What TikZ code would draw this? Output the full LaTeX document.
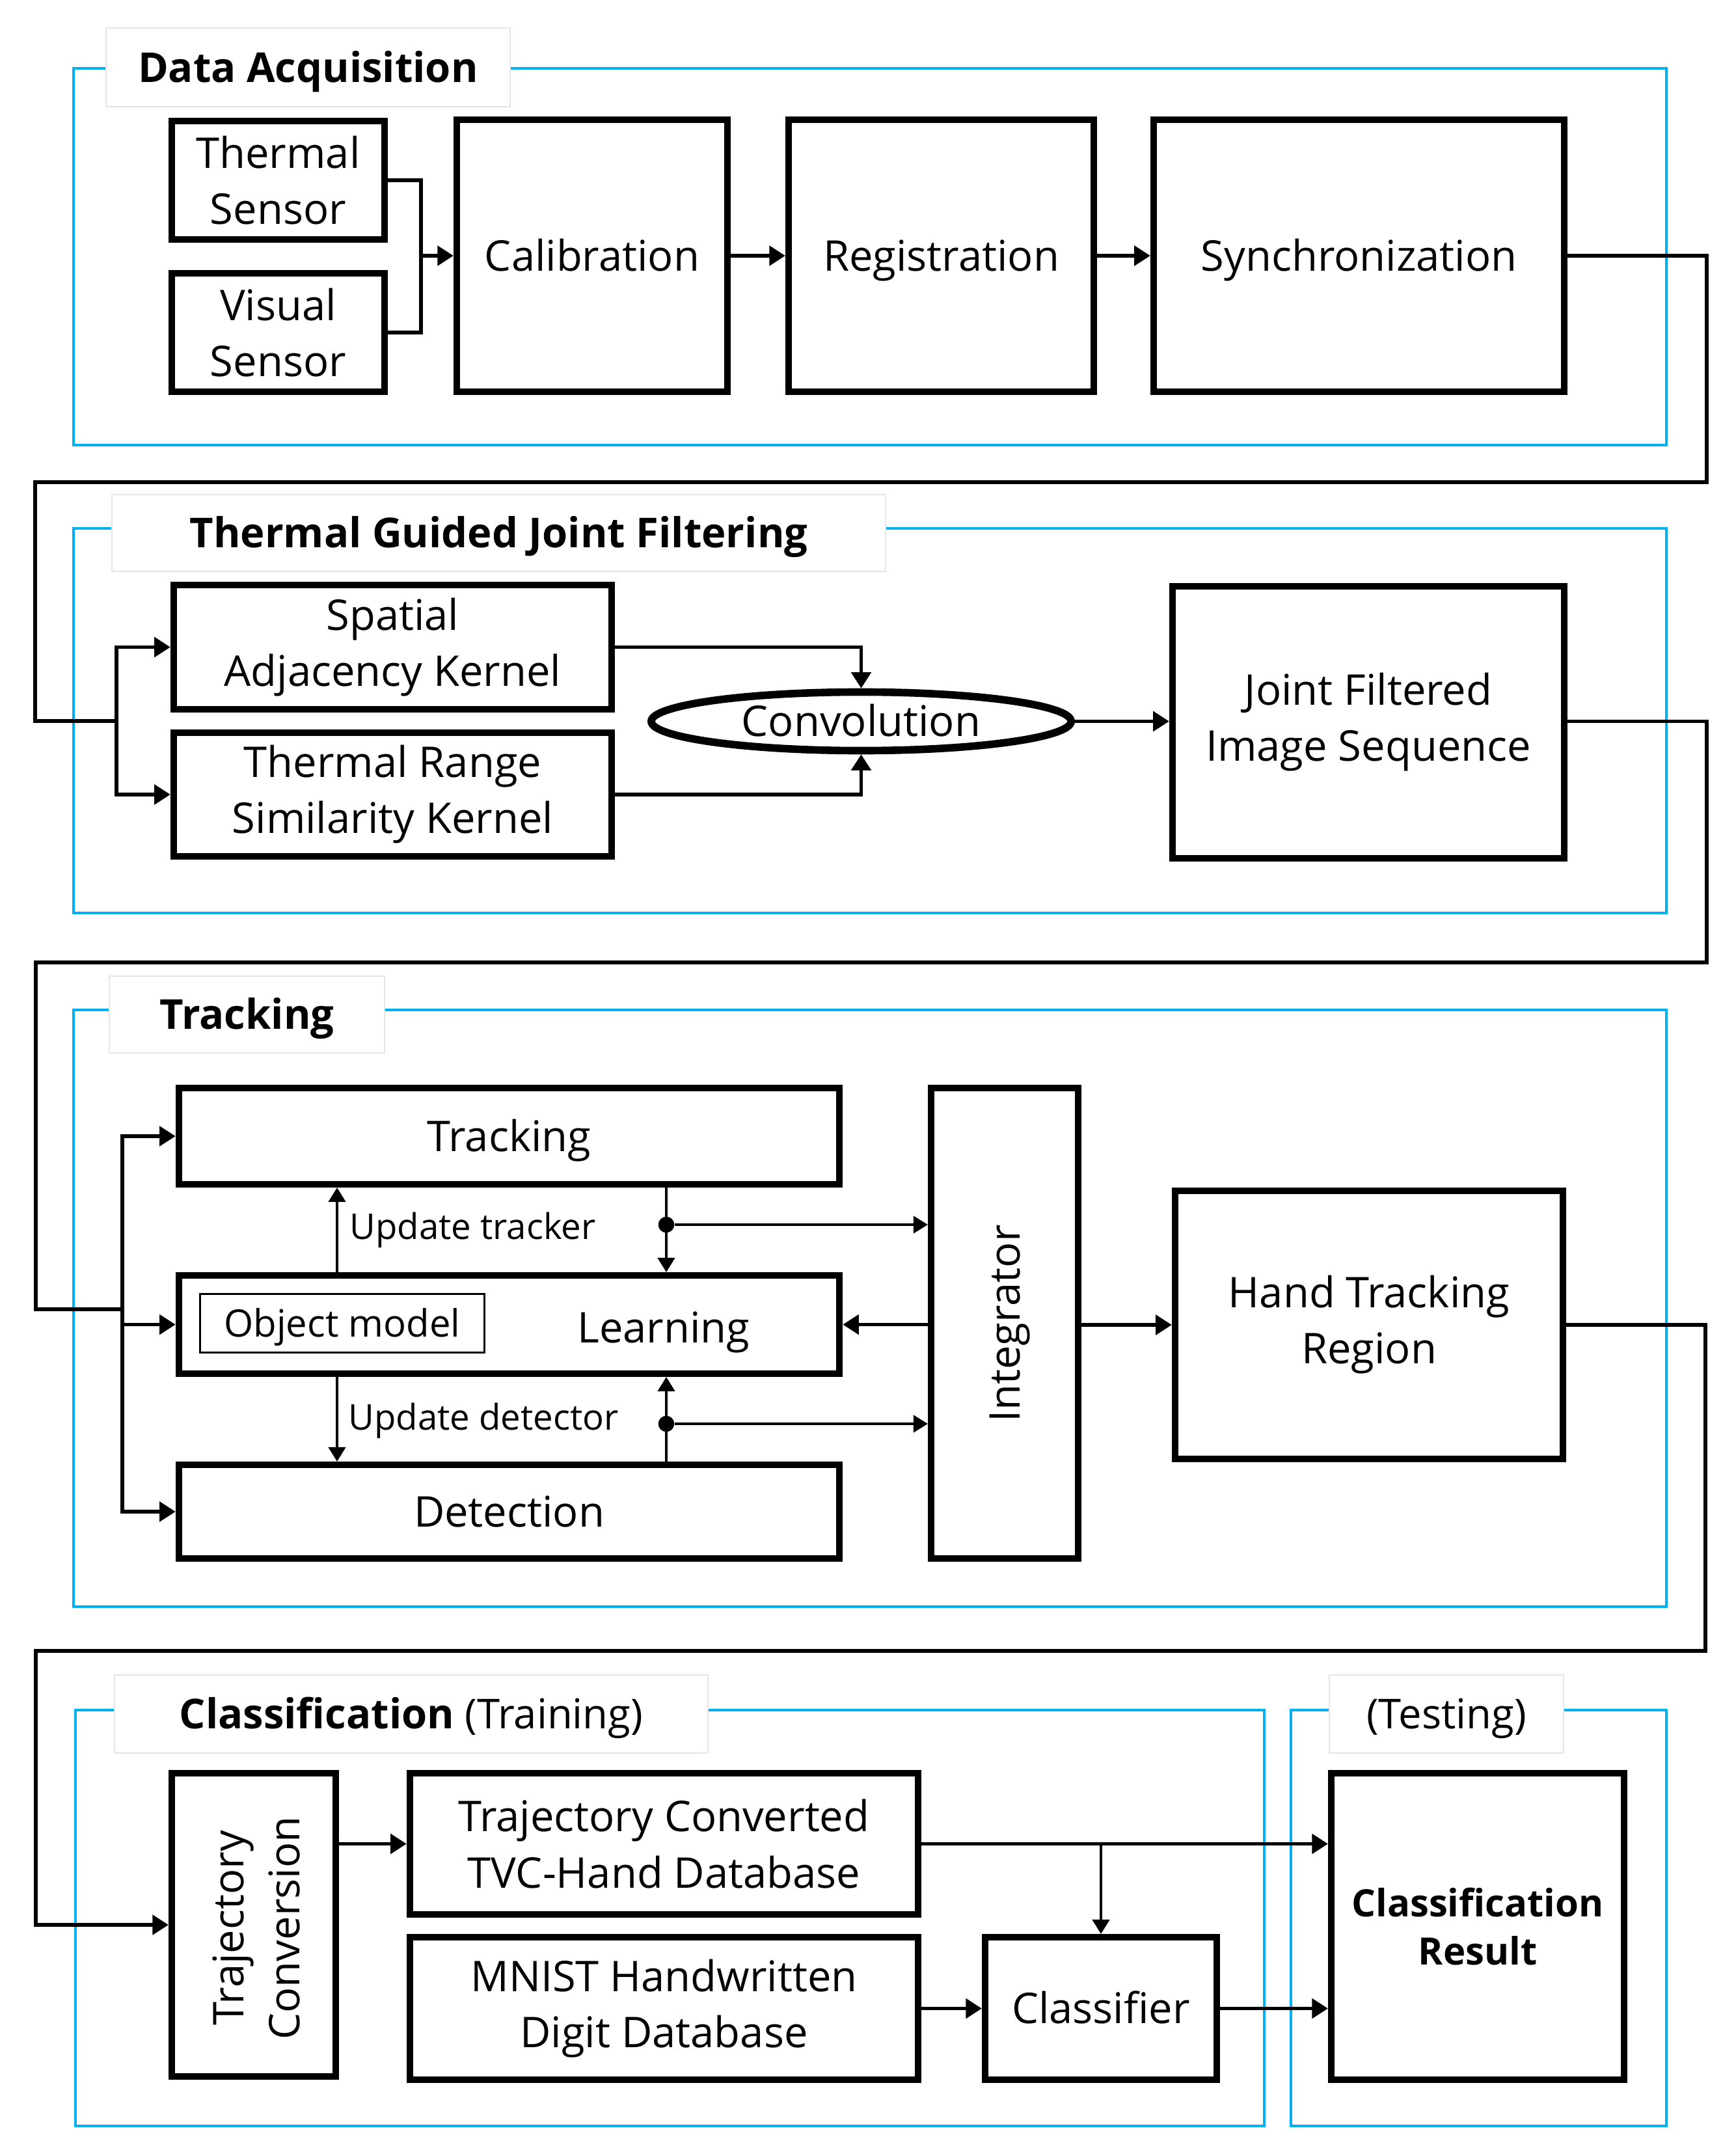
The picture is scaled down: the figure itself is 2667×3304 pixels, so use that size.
\documentclass[tikz,border=0pt]{standalone}
\usepackage{fontspec}
\setmainfont{Open Sans}
\usetikzlibrary{arrows.meta,shapes.geometric}
\definecolor{cyanblue}{HTML}{00B0F0}
\begin{document}
\begin{tikzpicture}[x=0.01cm,y=-0.01cm,
  blk/.style={draw=black, line width=2.85pt, fill=white, inner sep=0pt, align=center,
              font=\fontsize{18.5}{24.5}\selectfont},
  one/.style={text height=13.2pt, text depth=0pt},
  grp/.style={draw=cyanblue, line width=1.3pt},
  ttl/.style={draw=black!10, line width=0.5pt, fill=white, inner sep=0pt,
              text height=13pt, text depth=0pt, font=\bfseries\fontsize{18}{22}\selectfont},
  conn/.style={line width=1.45pt, line join=miter},
  arr/.style={conn, -{Triangle[length=7pt,width=8.6pt]}},
  thinarr/.style={line width=1.1pt, -{Triangle[length=6.3pt,width=7.5pt]}},
  dot/.style={circle, fill=black, inner sep=0pt, minimum size=7pt},
  lbl/.style={anchor=west, inner sep=0pt, font=\fontsize{15.5}{19}\selectfont},
  vtxt/.style={rotate=90, inner sep=0pt, align=center, font=\fontsize{18.5}{24.5}\selectfont}
]
\useasboundingbox (0,0) rectangle (2667,3304);
\fill[white] (0,0) rectangle (2667,3304);

% group frames
\draw[grp] (113,105) rectangle (2561,684);
\draw[grp] (113,812) rectangle (2561,1403);
\draw[grp] (113,1552) rectangle (2561,2469);
\draw[grp] (116,2628) rectangle (1943,3267);
\draw[grp] (1984,2628) rectangle (2561,3267);

% titles
\node[ttl, minimum width=6.21cm, minimum height=1.21cm] (tA) at (473.5,103.5) {Data Acquisition};
\node[ttl, minimum width=11.89cm, minimum height=1.18cm] (tB) at (766.5,819) {Thermal Guided Joint Filtering};
\node[ttl, minimum width=4.23cm, minimum height=1.18cm] (tC) at (379.5,1559) {Tracking};
\node[ttl, minimum width=9.12cm, minimum height=1.20cm] (tD) at (632,2634) {Classification {\mdseries (Training)}};
\node[ttl, minimum width=3.60cm, minimum height=1.20cm, font=\fontsize{18}{22}\selectfont] (tE) at (2223,2634) {(Testing)};

% Data acquisition
\node[blk, minimum width=3.27cm, minimum height=1.82cm] (therm) at (427.5,277) {Thermal\\Sensor};
\node[blk, minimum width=3.27cm, minimum height=1.82cm] (vis) at (427.5,511) {Visual\\Sensor};
\node[blk, one, minimum width=4.16cm, minimum height=4.18cm] (calib) at (910,393) {Calibration};
\node[blk, one, minimum width=4.69cm, minimum height=4.18cm] (reg) at (1446.5,393) {Registration};
\node[blk, one, minimum width=6.31cm, minimum height=4.18cm] (sync) at (2088.5,393) {Synchronization};

% Joint filtering
\node[blk, minimum width=6.73cm, minimum height=1.91cm] (spat) at (603.5,994.5) {Spatial\\Adjacency Kernel};
\node[blk, minimum width=6.73cm, minimum height=1.90cm] (rng) at (603.5,1221) {Thermal Range\\Similarity Kernel};
\node[blk, one, ellipse, line width=3.3pt, minimum width=6.45cm, minimum height=0.90cm] (conv) at (1323.5,1108.5) {Convolution};
\node[blk, minimum width=6.02cm, minimum height=4.17cm] (joint) at (2103,1110) {Joint Filtered\\Image Sequence};

% Tracking
\node[blk, one, minimum width=10.15cm, minimum height=1.48cm] (trk) at (782.5,1746) {Tracking};
\node[blk, minimum width=10.15cm, minimum height=1.51cm] (lrn) at (782.5,2035.5) {};
\node[draw, line width=1pt, minimum width=4.37cm, minimum height=0.90cm, inner sep=0pt,
      text height=11.8pt, text depth=0pt, font=\fontsize{16.5}{20}\selectfont] (objm) at (526,2033.5) {Object model};
\node[one, inner sep=0pt, font=\fontsize{18.5}{23}\selectfont] (lrnt) at (1020,2040) {Learning};
\node[blk, one, minimum width=10.15cm, minimum height=1.44cm] (det) at (782.5,2323) {Detection};
\node[blk, minimum width=2.26cm, minimum height=7.23cm] (integ) at (1544,2033.5) {};
\node[vtxt, text height=13.2pt, text depth=0pt] (integt) at (1544,2034) {Integrator};
\node[blk, minimum width=5.96cm, minimum height=4.12cm] (hand) at (2104,2036) {Hand Tracking\\Region};

% Classification
\node[blk, minimum width=2.52cm, minimum height=4.66cm] (trajc) at (390,2958) {};
\node[vtxt] (trajct) at (394,2963) {Trajectory\\Conversion};
\node[blk, minimum width=7.81cm, minimum height=2.17cm] (tvc) at (1020.5,2833.5) {Trajectory Converted\\TVC-Hand Database};
\node[blk, minimum width=7.81cm, minimum height=2.19cm] (mnist) at (1020.5,3086.5) {MNIST Handwritten\\Digit Database};
\node[blk, one, minimum width=3.56cm, minimum height=2.19cm] (clf) at (1692,3086.5) {Classifier};
\node[blk, minimum width=4.50cm, minimum height=4.71cm, font=\bfseries\fontsize{16.5}{21}\selectfont] (res) at (2271,2960.5) {Classification\\Result};

% connectors: data acquisition
\coordinate (m1) at (647,393);
\draw[conn] (therm.east) -| (m1) |- (vis.east);
\draw[arr] (m1) -- (calib.west);
\draw[arr] (calib.east) -- (reg.west);
\draw[arr] (reg.east) -- (sync.west);

% to joint filtering
\coordinate (c1) at (2623,741);
\coordinate (c2) at (54,741);
\coordinate (j1) at (179,1108);
\draw[conn] (sync.east) -| (c1) -- (c2) |- (j1);
\draw[arr] (j1) |- (spat.west);
\draw[arr] (j1) |- (rng.west);
\draw[arr] (spat.east) -| (conv.north);
\draw[arr] (rng.east) -| (conv.south);
\draw[arr] (conv.east) -- (joint.west |- conv.east);

% to tracking
\coordinate (c3) at (2623,1479);
\coordinate (c4) at (55,1479);
\coordinate (j2) at (188,2012);
\draw[conn] (joint.east |- conv.east) -| (c3) -- (c4) |- (j2);
\draw[arr] (j2) |- (trk.west);
\draw[arr] (j2) |- (lrn.west);
\draw[arr] (j2) |- (det.west);

\coordinate (ua) at (518,1890);
\coordinate (ub) at (1024,1882);
\coordinate (uc) at (1024,2188);
\coordinate (ud) at (518,2183);
\draw[thinarr] (lrn.north -| ua) -- (trk.south -| ua);
\draw[thinarr] (trk.south -| ub) -- (lrn.north -| ub);
\draw[thinarr] (lrn.south -| ud) -- (det.north -| ud);
\draw[thinarr] (det.north -| uc) -- (lrn.south -| uc);
\node[dot] (d1) at (ub) {};
\node[dot] (d2) at (uc) {};
\draw[thinarr] (d1) -- (d1 -| integ.west);
\draw[thinarr] (d2) -- (d2 -| integ.west);
\node[lbl] (lut) at (537,1890) {Update tracker};
\node[lbl] (lud) at (535,2183) {Update detector};
\draw[arr] (integ.west |- lrn.east) -- (lrn.east);
\draw[arr] (integ.east |- hand.west) -- (hand.west);

% to classification
\coordinate (c5) at (2621,2537);
\coordinate (c6) at (55,2537);
\draw[arr] (hand.east) -| (c5) -- (c6) |- (trajc.west);
\draw[arr] (trajc.east |- tvc.west) -- (tvc.west);
\draw[arr] (tvc.east) -- (res.west |- tvc.east);
\draw[thinarr] (clf.north |- tvc.east) -- (clf.north);
\draw[arr] (mnist.east) -- (clf.west);
\draw[arr] (clf.east) -- (res.west |- clf.east);
\end{tikzpicture}
\end{document}
